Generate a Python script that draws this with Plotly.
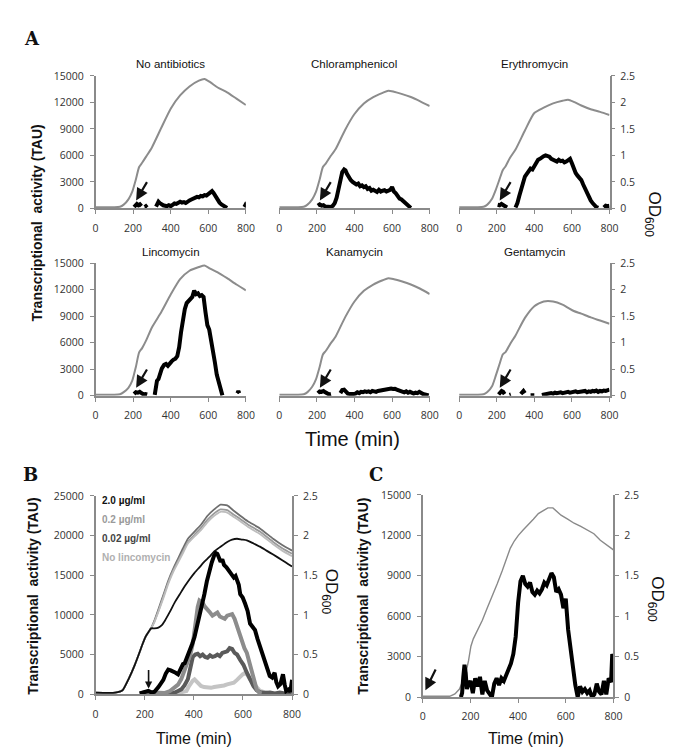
import plotly.graph_objects as go

# ---------------- DATA ----------------
# Panel A: OD600 (grey) sampled at common times
tA = [0, 100, 130, 150, 175, 195, 215, 232, 248, 270, 300, 350, 400, 450, 500, 550, 580, 610, 650, 700, 750, 800]
noab_od = [0.02, 0.02, 0.03, 0.07, 0.17, 0.31, 0.55, 0.78, 0.86, 0.98, 1.15, 1.52, 1.88, 2.13, 2.3, 2.41, 2.44, 2.38, 2.28, 2.19, 2.07, 1.95]
chl_od = [0.02, 0.02, 0.03, 0.07, 0.17, 0.31, 0.55, 0.78, 0.85, 0.97, 1.12, 1.48, 1.78, 1.98, 2.1, 2.18, 2.22, 2.2, 2.16, 2.1, 2.02, 1.93]
ery_od = [0.02, 0.02, 0.03, 0.07, 0.18, 0.35, 0.55, 0.72, 0.8, 0.95, 1.11, 1.47, 1.8, 1.9, 1.98, 2.03, 2.05, 2.01, 1.94, 1.87, 1.82, 1.76]
linc_od = [0.02, 0.02, 0.03, 0.07, 0.15, 0.28, 0.55, 0.82, 0.9, 1.05, 1.29, 1.58, 1.91, 2.2, 2.36, 2.43, 2.46, 2.4, 2.33, 2.22, 2.1, 1.99]
kan_od = [0.02, 0.02, 0.03, 0.07, 0.17, 0.31, 0.55, 0.78, 0.85, 0.97, 1.12, 1.48, 1.78, 1.98, 2.1, 2.18, 2.22, 2.2, 2.16, 2.1, 2.02, 1.92]
gen_od = [0.02, 0.02, 0.03, 0.07, 0.18, 0.38, 0.6, 0.78, 0.83, 0.97, 1.14, 1.47, 1.69, 1.78, 1.78, 1.72, 1.66, 1.6, 1.55, 1.48, 1.42, 1.36]

# Panel A: transcriptional activity (black), None = gap
noab_t = [205, 212, 220, 228, 236, 244, 250, 262, 268, 274,
          290, 322, 328, 335, 342, 350, 360, 370, 380, 390,
          400, 410, 420, 430, 440, 450, 460, 470, 480, 490,
          500, 510, 520, 530, 540, 550, 560, 570, 580, 590,
          600, 610, 620, 628, 635, 642, 650, 660, 670, 680,
          690, 700, 750, 792, 797, 800]
noab_v = [150, 400, 500, 350, 450, 250, None, 150, 250, 100,
          None, 200, 600, 750, 600, 450, 350, 300, 250, 350,
          250, 400, 550, 500, 650, 750, 650, 700, 600, 800,
          900, 1000, 1100, 1250, 1300, 1250, 1400, 1350, 1500, 1450,
          1600, 1750, 1950, 1750, 1500, 1200, 900, 650, 450, 300,
          200, 50, None, 150, 350, 250]
chl_t = [205, 215, 225, 235, 245, 255, 265, 275, 285, 295,
         305, 315, 325, 335, 345, 352, 360, 370, 380, 390,
         400, 410, 420, 430, 440, 450, 460, 470, 480, 490,
         500, 510, 520, 530, 540, 550, 560, 570, 580, 590,
         600, 610, 620, 630, 640, 650, 660, 670, 680, 690,
         700]
chl_v = [300, 450, 300, 350, 200, 150, 100, 150, 300, 600,
         1200, 2300, 3300, 4100, 4400, 4300, 3900, 3500, 3200, 3000,
         2900, 2700, 2800, 2500, 2600, 2400, 2500, 2200, 2300, 2000,
         2100, 1900, 1850, 2100, 1900, 2000, 2050, 1900, 2000, 2100,
         2400, 1900, 1700, 1300, 1100, 1000, 800, 600, 400, 250,
         50]
ery_t = [205, 215, 225, 235, 245, 255, 280, 300, 310, 320,
         330, 340, 350, 360, 370, 380, 390, 400, 410, 420,
         430, 440, 450, 460, 470, 480, 490, 500, 510, 520,
         530, 540, 550, 560, 570, 580, 590, 600, 610, 620,
         630, 640, 650, 660, 670, 680, 690, 700, 710, 720,
         730, 740, 760, 770, 780, 790, 800]
ery_v = [400, 350, 500, 400, 300, 100, None, 100, 600, 1400,
         2200, 3000, 3600, 3900, 4300, 4500, 4400, 4800, 5300, 5500,
         5600, 5800, 5900, 6000, 5900, 5850, 5600, 5500, 5400, 5300,
         5500, 5350, 5400, 5200, 5300, 5400, 5600, 5100, 4500, 4000,
         3700, 3400, 3200, 2700, 2200, 1800, 1400, 900, 600, 350,
         150, 50, None, 100, 300, 250, 300]
linc_t = [205, 215, 225, 235, 245, 255, 265, 275, 290, 315,
          320, 327, 335, 345, 353, 365, 375, 385, 395, 405,
          415, 425, 435, 445, 455, 465, 475, 485, 495, 505,
          515, 525, 535, 545, 555, 565, 575, 585, 595, 605,
          615, 625, 635, 645, 655, 665, 675, 720, 755, 760,
          765]
linc_v = [200, 400, 350, 450, 300, 150, 200, 150, None, 100,
          600, 1700, 1900, 2700, 3100, 3500, 3600, 3400, 3700, 3900,
          4100, 4200, 4500, 5500, 7200, 8600, 9800, 10500, 10700, 11000,
          11200, 11900, 11500, 11600, 11300, 11400, 11200, 9500, 8000, 7500,
          6000, 4800, 3800, 2400, 1500, 600, 50, None, 300, 550,
          300]
kan_t = [205, 215, 225, 235, 245, 255, 265, 275, 300, 325,
         335, 345, 355, 365, 375, 385, 395, 405, 415, 425,
         435, 445, 455, 465, 475, 485, 495, 505, 515, 525,
         535, 545, 555, 565, 575, 585, 595, 605, 615, 625,
         635, 645, 655, 665, 675, 685, 695, 705, 715, 725,
         735, 745, 755, 765, 775, 785, 795]
kan_v = [300, 500, 450, 550, 400, 200, 150, 200, None, 300,
         650, 700, 400, 250, 200, 150, 200, 250, 400, 300,
         450, 400, 500, 450, 500, 400, 550, 500, 450, 550,
         600, 650, 700, 750, 800, 850, 820, 780, 800, 700,
         650, 500, 550, 400, 500, 350, 450, 300, 250, 350,
         300, 450, 300, 200, 150, 100, 50]
gen_t = [210, 218, 226, 234, 242, 255, 268, 275, 300, 328,
         335, 342, 350, 365, 380, 390, 400, 420, 440, 450,
         460, 470, 480, 490, 500, 510, 520, 530, 540, 550,
         560, 570, 580, 590, 600, 610, 620, 630, 640, 650,
         660, 670, 680, 690, 700, 710, 720, 730, 740, 750,
         760, 770, 780, 790, 800]
gen_v = [150, 450, 550, 450, 200, None, 100, 150, None, 200,
         500, 550, 300, None, 50, 80, 50, None, 100, 150,
         200, 250, 200, 300, 250, 350, 300, 350, 400, 300,
         350, 400, 450, 350, 400, 450, 500, 400, 450, 500,
         450, 550, 400, 500, 450, 550, 500, 600, 450, 550,
         500, 600, 550, 650, 700]

a_titles = ["No antibiotics", "Chloramphenicol", "Erythromycin", "Lincomycin", "Kanamycin", "Gentamycin"]

# Panel B: OD600
tB = [0, 80, 110, 136, 160, 176, 190, 203, 215, 226, 240, 256, 276, 296, 316, 336, 356, 376, 403, 430,
      456, 483, 509, 536, 560, 589, 620, 669, 723, 760, 800]
odB_002 = [0.02, 0.02, 0.05, 0.2, 0.37, 0.5, 0.62, 0.72, 0.78, 0.83, 0.93, 1.07, 1.25, 1.43, 1.58, 1.71, 1.84, 1.96, 2.05, 2.14,
           2.25, 2.33, 2.39, 2.38, 2.32, 2.25, 2.18, 2.09, 1.96, 1.88, 1.81]
odB_02 = [0.02, 0.02, 0.05, 0.2, 0.37, 0.5, 0.62, 0.72, 0.78, 0.83, 0.92, 1.05, 1.23, 1.41, 1.56, 1.68, 1.8, 1.92, 2.01, 2.1,
          2.2, 2.28, 2.33, 2.32, 2.27, 2.21, 2.14, 2.05, 1.92, 1.84, 1.77]
odB_0 = [0.02, 0.02, 0.05, 0.2, 0.37, 0.5, 0.62, 0.72, 0.78, 0.83, 0.91, 1.04, 1.21, 1.39, 1.54, 1.66, 1.78, 1.9, 1.99, 2.07,
         2.17, 2.25, 2.3, 2.29, 2.24, 2.18, 2.11, 2.02, 1.89, 1.81, 1.74]
tB2 = [0, 80, 110, 136, 160, 176, 190, 203, 215, 226, 240, 256, 270, 283, 303, 323, 343, 363, 383, 403,
       423, 443, 463, 483, 509, 536, 556, 576, 596, 616, 643, 669, 696, 723, 760, 800]
odB_2 = [0.02, 0.02, 0.05, 0.2, 0.37, 0.5, 0.62, 0.72, 0.78, 0.83, 0.83, 0.84, 0.87, 0.93, 1.04, 1.16, 1.26, 1.36, 1.45, 1.53,
         1.6, 1.67, 1.73, 1.8, 1.86, 1.92, 1.95, 1.96, 1.95, 1.94, 1.9, 1.86, 1.81, 1.76, 1.69, 1.61]

# Panel B: transcriptional activity
tB_2 = [180, 200, 215, 229, 240, 256, 266, 276, 286, 296,
        306, 316, 326, 336, 346, 356, 363, 373, 383, 393,
        403, 413, 423, 433, 443, 453, 463, 473, 483, 490,
        496, 503, 509, 516, 523, 533, 543, 553, 563, 570,
        576, 583, 589, 599, 609, 619, 629, 639, 649, 659,
        669, 679, 689, 699, 709, 719, 729, 736, 743, 753,
        763, 770, 776, 786, 793, 800]
tau_B_2 = [100, 200, 400, 200, 300, 900, 1300, 1800, 2600, 3100,
           3000, 2900, 2700, 2500, 3200, 3800, 3900, 4600, 5600, 6300,
           7200, 8500, 9700, 11200, 12600, 14200, 15500, 16600, 17500, 17800,
           17700, 17200, 16700, 17000, 16300, 16000, 15500, 15200, 14700, 14900,
           14300, 13800, 12600, 12200, 11400, 10500, 8900, 8500, 8100, 7000,
           6000, 5200, 3900, 3200, 2300, 2100, 2700, 1500, 1000, 1300,
           2500, 1200, 400, 600, 300, 1800]
tB_02 = [180, 200, 220, 240, 260, 283, 303, 323, 336, 349,
         362, 376, 386, 396, 403, 409, 416, 423, 430, 436,
         446, 456, 466, 476, 486, 496, 506, 516, 526, 536,
         546, 556, 566, 576, 586, 596, 606, 616, 626, 636,
         646, 656, 666, 676]
tau_B_02 = [100, 150, 300, 200, 150, 150, 400, 800, 1200, 1900,
            2900, 3900, 5000, 6400, 8000, 9700, 11000, 11800, 11700, 11500,
            11000, 10700, 10300, 9900, 10100, 10300, 9800, 9700, 9500, 9900,
            10000, 10100, 9500, 8500, 7600, 6800, 5800, 5200, 4000, 2700,
            1500, 600, 200, 100]
tB_002 = [180, 200, 220, 240, 260, 280, 300, 323, 336, 349,
          362, 376, 386, 396, 406, 416, 426, 436, 446, 456,
          466, 476, 486, 496, 506, 516, 526, 536, 546, 556,
          566, 576, 589, 602, 616, 629, 643, 656, 669, 690,
          710, 730, 750, 770, 790, 800]
tau_B_002 = [100, 200, 150, 100, 150, 100, 150, 200, 400, 600,
             1100, 1900, 3300, 4700, 5000, 5100, 4800, 5000, 4700, 4600,
             4900, 4700, 4800, 5000, 4800, 5200, 5300, 5400, 5800, 5700,
             5200, 5000, 4300, 3700, 2700, 1800, 1000, 500, 250, 150,
             200, 100, 200, 100, 300, 200]
tB_0 = [330, 350, 370, 380, 389, 396, 403, 416, 429, 442,
        456, 470, 483, 496, 510, 523, 536, 550, 563, 576,
        589, 599, 609, 619, 629, 639, 649, 659, 669, 682,
        696, 710]
tau_B_0 = [100, 200, 400, 1000, 1450, 1700, 1860, 1400, 1030, 900,
           830, 800, 900, 950, 1000, 1100, 1240, 1300, 1450, 1800,
           2270, 2500, 2690, 2400, 1860, 1500, 1030, 700, 410, 300,
           200, 100]
b_legend = ["2.0 µg/ml", "0.2 µg/ml", "0.02 µg/ml", "No lincomycin"]

# Panel C
tC_od = [0, 113, 135, 154, 168, 181, 192, 202, 212, 223,
         236, 250, 270, 291, 312, 333, 350, 367, 384, 401,
         422, 443, 464, 485, 505, 525, 546, 563, 580, 608,
         635, 663, 690, 718, 745, 773, 800]
odC = [0.01, 0.01, 0.04, 0.1, 0.2, 0.3, 0.45, 0.63, 0.72, 0.79,
       0.86, 0.95, 1.1, 1.24, 1.4, 1.56, 1.7, 1.84, 1.93, 2.0,
       2.07, 2.13, 2.2, 2.27, 2.31, 2.34, 2.34, 2.3, 2.25, 2.2,
       2.15, 2.11, 2.07, 2.02, 1.94, 1.88, 1.82]
tC_tau = [160, 165, 170, 175, 180, 185, 190, 200, 210, 220,
          230, 240, 250, 260, 270, 280, 290, 300, 310, 320,
          330, 340, 350, 360, 370, 380, 390, 400, 410, 420,
          430, 440, 450, 460, 470, 480, 490, 500, 510, 520,
          530, 540, 550, 560, 570, 580, 590, 600, 610, 620,
          630, 640, 650, 660, 670, 680, 690, 700, 710, 720,
          730, 740, 750, 760, 770, 780, 790, 795, 800]
tauC = [0, 300, 1500, 2400, 1800, 600, 900, 1200, 300, 1400,
        800, 1500, 200, 1200, 500, 300, 0, 1000, 1400, 900,
        1400, 1200, 1600, 2000, 2500, 3200, 4500, 7000, 8600, 9000,
        8400, 8200, 8500, 7800, 7600, 7900, 7700, 8000, 8500, 8300,
        8800, 9200, 8900, 7800, 8000, 7600, 6600, 7300, 5000, 3500,
        2400, 900, 0, 800, 400, 600, 300, 500, 0, 200,
        1000, 400, 200, 1200, 200, 1400, 1100, 3200, 2800]

x_ticks = [0, 200, 400, 600, 800]
od_ticks = [0, 0.5, 1, 1.5, 2, 2.5]
od_ticktext = ["0", "0.5", "1", "1.5", "2", "2.5"]
tauA_ticks = [0, 3000, 6000, 9000, 12000, 15000]
tauB_ticks = [0, 5000, 10000, 15000, 20000, 25000]

# ---------------- FIGURE ----------------
W, H = 696, 755
fig = go.Figure()
layout = dict(width=W, height=H, autosize=False, margin=dict(l=0, r=0, t=0, b=0),
              paper_bgcolor="white", plot_bgcolor="white", showlegend=False)

AX = "#8a8a8a"
TICKFONT = dict(family="Open Sans, Arial, sans-serif", size=10.5, color="#333")


def refs(n):
    xr = "x" if n == 1 else f"x{n}"
    b = 2 * n - 1
    o = 2 * n
    yb = "y" if b == 1 else f"y{b}"
    return xr, yb, f"y{o}", ("xaxis" if n == 1 else f"xaxis{n}"), ("yaxis" if b == 1 else f"yaxis{b}"), f"yaxis{o}"


def add_axes(n, xpx, ypx, tau_max, tau_ticks, show_left, show_right):
    xr, yb, yo, xn, ybn, yon = refs(n)
    xdom = [xpx[0] / W, xpx[1] / W]
    ydom = [1 - ypx[1] / H, 1 - ypx[0] / H]
    layout[xn] = dict(domain=xdom, anchor=yb, range=[0, 800], tickvals=x_ticks,
                      showline=True, linecolor=AX, linewidth=1.5, ticks="outside", ticklen=4,
                      tickcolor=AX, tickwidth=1.2, showgrid=False, zeroline=False,
                      tickfont=TICKFONT, ticklabelstandoff=5, fixedrange=True)
    layout[ybn] = dict(domain=ydom, anchor=xr, side="right", range=[0, 2.5], tickvals=od_ticks,
                       ticktext=od_ticktext, showline=True, linecolor=AX, linewidth=1.5,
                       ticks="outside", ticklen=4, tickcolor=AX, tickwidth=1.2, showgrid=False,
                       zeroline=False, tickfont=TICKFONT, visible=show_right, ticklabelstandoff=3)
    layout[yon] = dict(overlaying=yb, anchor=xr, side="left", range=[0, tau_max], tickvals=tau_ticks,
                       tickformat="d", showline=True, linecolor=AX, linewidth=1.5, ticks="outside",
                       ticklen=4, tickcolor=AX, tickwidth=1.2, showgrid=False, zeroline=False,
                       tickfont=TICKFONT, visible=show_left, ticklabelstandoff=4)
    return xr, yb, yo


cols = [(86, 239), (273, 426), (456, 609)]
rows = [(62, 197), (253, 388)]
a_od = [noab_od, chl_od, ery_od, linc_od, kan_od, gen_od]
a_t = [noab_t, chl_t, ery_t, linc_t, kan_t, gen_t]
a_v = [noab_v, chl_v, ery_v, linc_v, kan_v, gen_v]

annotations = []


def ann(text, x, y, size, family="Liberation Sans, Arial, sans-serif", color="#111", angle=0,
        xanchor="center", yanchor="middle"):
    annotations.append(dict(text=text, x=x / W, y=1 - y / H, xref="paper", yref="paper",
                            showarrow=False, textangle=angle, xanchor=xanchor, yanchor=yanchor,
                            font=dict(size=size, family=family, color=color)))


def arrow(xr, yr, x_head, y_head, x_tail, y_tail, width=2.2, size=1.1):
    annotations.append(dict(x=x_head, y=y_head, ax=x_tail, ay=y_tail, xref=xr, yref=yr,
                            axref=xr, ayref=yr, showarrow=True, arrowhead=2, arrowsize=size,
                            arrowwidth=width, arrowcolor="#111", text=" ",
                            font=dict(size=1)))


for i in range(6):
    r, c = divmod(i, 3)
    xr, yb, yo = add_axes(i + 1, cols[c], rows[r], 15000, tauA_ticks, c == 0, c == 2)
    fig.add_trace(go.Scatter(x=tA, y=a_od[i], mode="lines", xaxis=xr, yaxis=yb,
                             line=dict(color="#8c8c8c", width=2, shape="spline", smoothing=0.6),
                             hoverinfo="skip"))
    fig.add_trace(go.Scatter(x=a_t[i], y=a_v[i], mode="lines", xaxis=xr, yaxis=yo,
                             line=dict(color="#000", width=4), connectgaps=False, hoverinfo="skip"))
    ann(a_titles[i], (cols[c][0] + cols[c][1]) / 2, rows[r][0] - 12, 11.5)
    arrow(xr, yo, 216, 900, 280, 3200)

# Panel B
xr, yb, yo = add_axes(7, (86, 286), (490, 692), 25000, tauB_ticks, True, True)
for vals, col, t in [(odB_002, "#6e6e6e", tB), (odB_02, "#9a9a9a", tB), (odB_0, "#bdbdbd", tB), (odB_2, "#111", tB2)]:
    fig.add_trace(go.Scatter(x=t, y=vals, mode="lines", xaxis=xr, yaxis=yb,
                             line=dict(color=col, width=1.8, shape="spline", smoothing=0.5),
                             hoverinfo="skip"))
for t, vals, col in [(tB_0, tau_B_0, "#c4c4c4"), (tB_002, tau_B_002, "#5a5a5a"),
                     (tB_02, tau_B_02, "#8c8c8c"), (tB_2, tau_B_2, "#000")]:
    fig.add_trace(go.Scatter(x=t, y=vals, mode="lines", xaxis=xr, yaxis=yo,
                             line=dict(color=col, width=4), hoverinfo="skip"))
arrow(xr, yo, 216, 700, 216, 3300, width=1.6, size=0.9)
legend_colors = ["#111", "#9a9a9a", "#444", "#b0b0b0"]
for k, (lbl, col) in enumerate(zip(b_legend, legend_colors)):
    ann("<b>" + lbl + "</b>", 91, 495 + k * 19.3, 10, color=col, xanchor="left")

# Panel C
xr, yb, yo = add_axes(8, (419, 613), (489, 695), 15000, tauA_ticks, True, True)
fig.add_trace(go.Scatter(x=tC_od, y=odC, mode="lines", xaxis=xr, yaxis=yb,
                         line=dict(color="#8a8a8a", width=1.4), hoverinfo="skip"))
fig.add_trace(go.Scatter(x=tC_tau, y=tauC, mode="lines", xaxis=xr, yaxis=yo,
                         line=dict(color="#000", width=4), hoverinfo="skip"))
arrow(xr, yo, 11, 500, 58, 2200)

# Texts
SERIF = "DejaVu Serif, serif"
ann("<b>A</b>", 21, 24, 18, family=SERIF)
ann("<b>B</b>", 20, 468, 18, family=SERIF)
ann("<b>C</b>", 371, 468, 18, family=SERIF)
ytitle = "<b>Transcriptional\u00a0 activity (TAU)</b>"
ann(ytitle, 27, 212, 14, angle=-90)
ann(ytitle, 22, 592, 14, angle=-90)
ann(ytitle, 358, 592, 14, angle=-90)
od_title = "OD<sub>600</sub>"
ann(od_title, 653, 203, 17, angle=90)
ann(od_title, 324, 588, 17, angle=90)
ann(od_title, 656, 595, 17, angle=90)
ann("Time (min)", 347, 432, 20)
ann("Time (min)", 186, 737, 16)
ann("Time (min)", 524, 737, 16)

layout["annotations"] = annotations
fig.update_layout(**layout)
fig.write_html("out.html")
